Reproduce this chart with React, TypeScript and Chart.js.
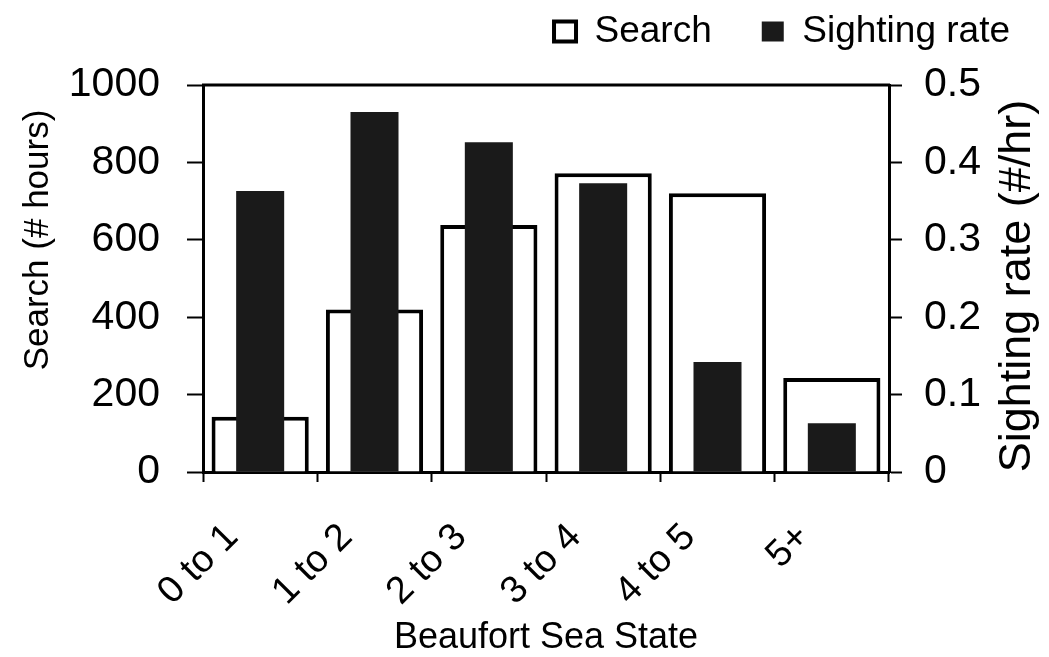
import React, { useEffect, useRef } from "react";
import { Chart, registerables } from "chart.js";

Chart.register(...registerables);

const categories = ["0 to 1", "1 to 2", "2 to 3", "3 to 4", "4 to 5", "5+"];
const searchHours = [143, 420, 638, 772, 720, 243];
const sightingRate = [0.363, 0.465, 0.426, 0.373, 0.142, 0.063];
const searchTicks = [0, 200, 400, 600, 800, 1000];
const rateTicks = [0, 0.1, 0.2, 0.3, 0.4, 0.5];
const leftTitle = "Search (# hours)";
const rightTitle = "Sighting rate (#/hr)";

const FONT = "'Liberation Sans', Arial, Helvetica, sans-serif";

export default function App() {
  const ref = useRef<HTMLCanvasElement | null>(null);

  useEffect(() => {
    document.body.style.margin = "0";
    const canvas = ref.current;
    if (!canvas) return;

    const layoutPlugin = {
      id: "layoutFix",
      afterInit(chart: any) {
        const legend = chart.legend;
        if (legend) {
          const origFit = legend.fit;
          legend.fit = function () {
            origFit.call(this);
            this.height = 85;
          };
        }
      },
      afterLayout(chart: any) {
        const legend = chart.legend;
        if (legend) {
          legend.top -= 37;
          legend.left += 8;
          legend.right += 11;
        }
      },
    };

    const framePlugin = {
      id: "frame",
      afterDatasetsDraw(chart: any) {
        const { ctx, chartArea } = chart;
        ctx.save();
        ctx.strokeStyle = "#000";
        ctx.lineWidth = 3;
        ctx.beginPath();
        ctx.moveTo(chartArea.left - 1, chartArea.top);
        ctx.lineTo(chartArea.right + 1, chartArea.top);
        ctx.stroke();
        ctx.restore();
      },
      afterDraw(chart: any) {
        const { ctx } = chart;
        ctx.save();
        ctx.fillStyle = "#000";
        ctx.textAlign = "center";
        ctx.textBaseline = "middle";
        ctx.font = `35px ${FONT}`;
        ctx.translate(38, 240);
        ctx.rotate(-Math.PI / 2);
        ctx.fillText(leftTitle, 0, 0);
        ctx.restore();

        ctx.save();
        ctx.fillStyle = "#000";
        ctx.textAlign = "center";
        ctx.textBaseline = "middle";
        ctx.font = `45px ${FONT}`;
        ctx.translate(1018, 286);
        ctx.rotate(-Math.PI / 2);
        ctx.fillText(rightTitle, 0, 0);
        ctx.restore();
      },
    };

    const chart = new Chart(canvas, {
      type: "bar",
      data: {
        labels: categories,
        datasets: [
          {
            label: "Search",
            data: searchHours,
            yAxisID: "y",
            backgroundColor: "#ffffff",
            borderColor: "#000000",
            borderWidth: 4,
            grouped: false,
            barPercentage: 0.85,
            categoryPercentage: 1,
            order: 1,
          },
          {
            label: "Sighting rate",
            data: sightingRate,
            yAxisID: "y1",
            backgroundColor: "#1a1a1a",
            borderColor: "#000000",
            borderWidth: 0,
            grouped: false,
            barPercentage: 0.42,
            categoryPercentage: 1,
            order: 0,
          },
        ],
      },
      options: {
        animation: false,
        responsive: false,
        maintainAspectRatio: false,
        layout: { padding: { left: 0, right: 0, top: 0, bottom: 0 } },
        plugins: {
          tooltip: { enabled: false },
          legend: {
            display: true,
            position: "top",
            align: "end",
            labels: {
              color: "#000",
              font: { family: FONT, size: 37 },
              boxWidth: 22,
              boxHeight: 20,
              padding: 50,
              sort: (a: any, b: any) => a.datasetIndex - b.datasetIndex,
            },
          },
        },
        scales: {
          x: {
            type: "category",
            offset: true,
            grid: {
              offset: true,
              drawOnChartArea: false,
              drawTicks: true,
              tickLength: 10,
              tickWidth: 2,
              color: "#000",
            },
            border: { display: true, color: "#000", width: 3 },
            ticks: {
              color: "#000",
              font: { family: FONT, size: 38 },
              minRotation: 45,
              maxRotation: 45,
              autoSkip: false,
              labelOffset: -28,
              padding: 33,
            },
            title: {
              display: true,
              text: "Beaufort Sea State",
              color: "#000",
              font: { family: FONT, size: 36 },
              padding: { top: 0, bottom: -3 },
            },
            afterFit(scale: any) {
              scale.height = 657 - 472;
            },
          },
          y: {
            type: "linear",
            position: "left",
            min: 0,
            max: 1000,
            afterBuildTicks(scale: any) {
              scale.ticks = searchTicks.map((v) => ({ value: v }));
            },
            grid: {
              drawOnChartArea: false,
              drawTicks: true,
              tickLength: 16,
              tickWidth: 2,
              color: "#000",
            },
            border: { display: true, color: "#000", width: 3 },
            ticks: {
              color: "#000",
              font: { family: FONT, size: 41 },
              padding: 27,
              callback: (v: any) => String(Number(v)),
            },
            afterFit(scale: any) {
              scale.width = 203;
            },
          },
          y1: {
            type: "linear",
            position: "right",
            min: 0,
            max: 0.5,
            afterBuildTicks(scale: any) {
              scale.ticks = rateTicks.map((v) => ({ value: v }));
            },
            grid: {
              drawOnChartArea: false,
              drawTicks: true,
              tickLength: 13,
              tickWidth: 2,
              color: "#000",
            },
            border: { display: true, color: "#000", width: 3 },
            ticks: {
              color: "#000",
              font: { family: FONT, size: 41 },
              padding: 22,
              callback: (v: any) => String(Number(v)),
            },
            afterFit(scale: any) {
              scale.width = 1049 - 889;
            },
          },
        },
      },
      plugins: [layoutPlugin, framePlugin],
    } as any);

    return () => {
      chart.destroy();
    };
  }, []);

  return (
    <div style={{ position: "absolute", left: 0, top: 0, width: 1049, height: 657, background: "#fff" }}>
      <canvas ref={ref} width={1049} height={657} style={{ width: 1049, height: 657, display: "block" }} />
    </div>
  );
}
